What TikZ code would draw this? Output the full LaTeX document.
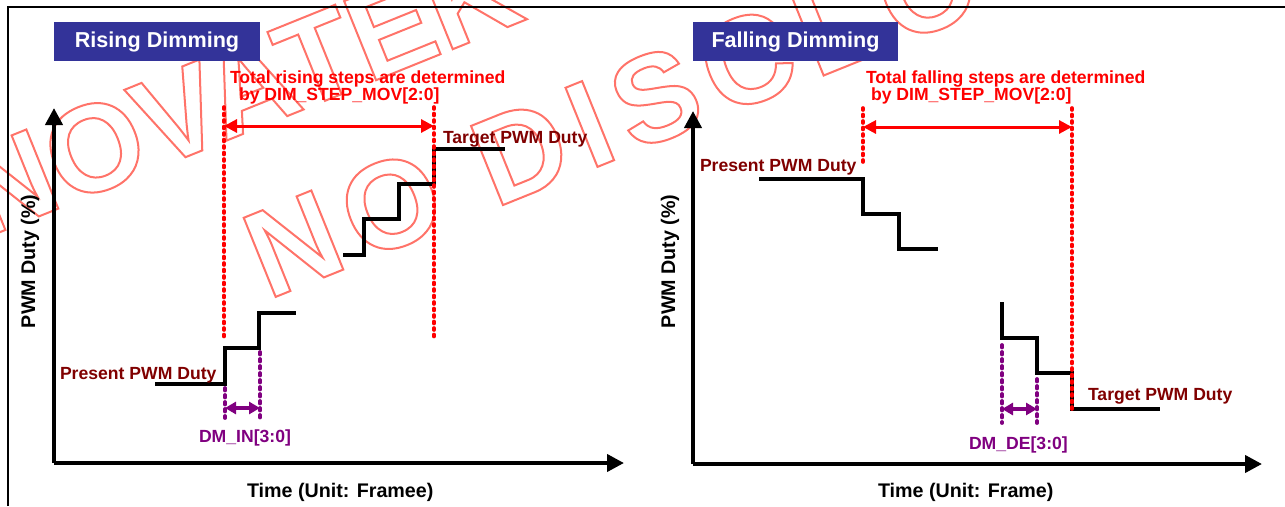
\documentclass[tikz,border=0pt]{standalone}
\usepackage{fontspec}
\setmainfont{Liberation Sans}
\newfontfamily\stampfontA{Liberation Sans}
\newfontfamily\stampfontB{Liberation Sans}[LetterSpace=10]
\usetikzlibrary{arrows.meta}

\definecolor{titleblue}{RGB}{51,51,153}
\definecolor{dutyred}{RGB}{128,0,0}
\definecolor{dimpurple}{RGB}{128,0,128}
\definecolor{stampred}{RGB}{255,115,105}

% stroked (hollow) glyphs for the stamp text
\newcommand{\hollowtext}[1]{\special{pdf:literal direct 1 Tr 2 w}#1\special{pdf:literal direct 0 Tr}}

\begin{document}
\begin{tikzpicture}[x=1pt,y=-1pt,
  every node/.style={inner sep=0pt, outer sep=0pt},
  stamp/.style={anchor=base west, rotate=22, text=stampred},
  titlebox/.style={anchor=north west, fill=titleblue, text=white,
    minimum width=206pt, minimum height=39pt,
    font=\fontsize{21.6}{24}\selectfont\bfseries},
  lbl/.style={anchor=base west, font=\fontsize{17.6}{20}\selectfont\bfseries},
  axislbl/.style={anchor=base west, font=\fontsize{19.7}{22}\selectfont\bfseries},
  frameline/.style={line width=1.2pt, black},
  axis/.style={line width=4pt, -{Triangle[length=17pt,width=17pt]}},
  stair/.style={line width=3.6pt, black, line join=miter},
  reddots/.style={red, line width=3.6pt, line cap=round, dash pattern=on 2pt off 4.5pt},
  purpledots/.style={dimpurple, line width=3.8pt, line cap=round, dash pattern=on 2.5pt off 4.5pt},
  spanarrow/.style={red, line width=3pt,
    {Triangle[length=13pt,width=13pt]}-{Triangle[length=13pt,width=13pt]}},
  steparrow/.style={dimpurple, line width=3.4pt,
    {Triangle[length=11pt,width=12pt]}-{Triangle[length=11pt,width=12pt]}}
]
\useasboundingbox (0,0) rectangle (1285,506);

% stamp text in the background
\node[stamp, font=\stampfontA\bfseries\fontsize{124}{124}\selectfont]
  (stampA) at (-17,239) {\hollowtext{NOVATEK CONFIDENTIAL}};
\node[stamp, font=\stampfontB\bfseries\fontsize{124}{124}\selectfont]
  (stampB) at (268,300) {\hollowtext{NO DISCLOSURE}};

% outer frame
\coordinate (fTL) at (8,7);
\coordinate (fTR) at (1285,7);
\coordinate (fBL) at (8,506);
\draw[frameline] (fBL) -- (fTL) -- (fTR);

% ---------------- rising dimming ----------------
\node[titlebox] (riseTitle) at (54,22) {Rising Dimming};

\coordinate (rO) at (54,463);
\coordinate (rY) at (54,108);
\coordinate (rX) at (624,463);
\draw[axis] (rO) -- (rY);
\draw[axis] (rO) -- (rX);

\node[axislbl, rotate=90] (riseYlbl) at (35,328) {PWM Duty (\%)};
\node[axislbl] (riseXlbl) at (247,497) {Time (Unit: Framee)};

% duty staircase
\draw[stair] (155,384) -- (225,384) -- (225,348) -- (259,348) -- (259,313) -- (296,313);
\draw[stair] (343,255) -- (364,255) -- (364,219) -- (399,219) -- (399,184)
  -- (434,184) -- (434,149) -- (505,149);

% span of all steps
\coordinate (rS1t) at (224,107);
\coordinate (rS1b) at (224,338);
\coordinate (rS2t) at (434,107);
\coordinate (rS2b) at (434,338);
\draw[reddots] (rS1t) -- (rS1b);
\draw[reddots] (rS2t) -- (rS2b);
\coordinate (rA1) at (224,126);
\coordinate (rA2) at (434,126);
\draw[spanarrow] (rA1) -- (rA2);
\node[lbl, text=red] (riseNote1) at (230,83) {Total rising steps are determined};
\node[lbl, text=red] (riseNote2) at (239,100) {by DIM\_STEP\_MOV[2:0]};

% one step interval
\coordinate (rP1t) at (225,388);
\coordinate (rP1b) at (225,418);
\coordinate (rP2t) at (260,352);
\coordinate (rP2b) at (260,418);
\draw[purpledots] (rP1t) -- (rP1b);
\draw[purpledots] (rP2t) -- (rP2b);
\coordinate (rI1) at (225,408);
\coordinate (rI2) at (260,408);
\draw[steparrow] (rI1) -- (rI2);
\node[lbl, text=dimpurple] (riseStep) at (199,442) {DM\_IN[3:0]};

\node[lbl, text=dutyred] (risePresent) at (60,379) {Present PWM Duty};
\node[lbl, text=dutyred] (riseTarget) at (443,143) {Target PWM Duty};

% ---------------- falling dimming ----------------
\node[titlebox, minimum width=205pt] (fallTitle) at (693,22) {Falling Dimming};

\coordinate (fO) at (693,464);
\coordinate (fY) at (693,111);
\coordinate (fX) at (1262,464);
\draw[axis] (fO) -- (fY);
\draw[axis] (fO) -- (fX);

\node[axislbl, rotate=90] (fallYlbl) at (675,328) {PWM Duty (\%)};
\node[axislbl] (fallXlbl) at (878,497) {Time (Unit: Frame)};

% duty staircase
\draw[stair] (759,179) -- (863,179) -- (863,214) -- (899,214) -- (899,249) -- (938,249);
\draw[stair] (1002,302) -- (1002,338) -- (1037,338) -- (1037,373) -- (1072,373)
  -- (1072,409) -- (1160,409);

% span of all steps
\coordinate (fS1t) at (863,108);
\coordinate (fS1b) at (863,163);
\coordinate (fS2t) at (1072,108);
\coordinate (fS2b) at (1072,409);
\draw[reddots] (fS1t) -- (fS1b);
\draw[reddots] (fS2t) -- (fS2b);
\coordinate (fA1) at (863,127);
\coordinate (fA2) at (1072,127);
\draw[spanarrow] (fA1) -- (fA2);
\node[lbl, text=red] (fallNote1) at (866,83) {Total falling steps are determined};
\node[lbl, text=red] (fallNote2) at (871,100) {by DIM\_STEP\_MOV[2:0]};

% one step interval
\coordinate (fP1t) at (1002,345);
\coordinate (fP1b) at (1002,423);
\coordinate (fP2t) at (1037,379);
\coordinate (fP2b) at (1037,423);
\draw[purpledots] (fP1t) -- (fP1b);
\draw[purpledots] (fP2t) -- (fP2b);
\coordinate (fI1) at (1002,409);
\coordinate (fI2) at (1037,409);
\draw[steparrow] (fI1) -- (fI2);
\node[lbl, text=dimpurple] (fallStep) at (969,449) {DM\_DE[3:0]};

\node[lbl, text=dutyred] (fallPresent) at (700,171) {Present PWM Duty};
\node[lbl, text=dutyred] (fallTarget) at (1088,400) {Target PWM Duty};
\end{tikzpicture}
\end{document}
